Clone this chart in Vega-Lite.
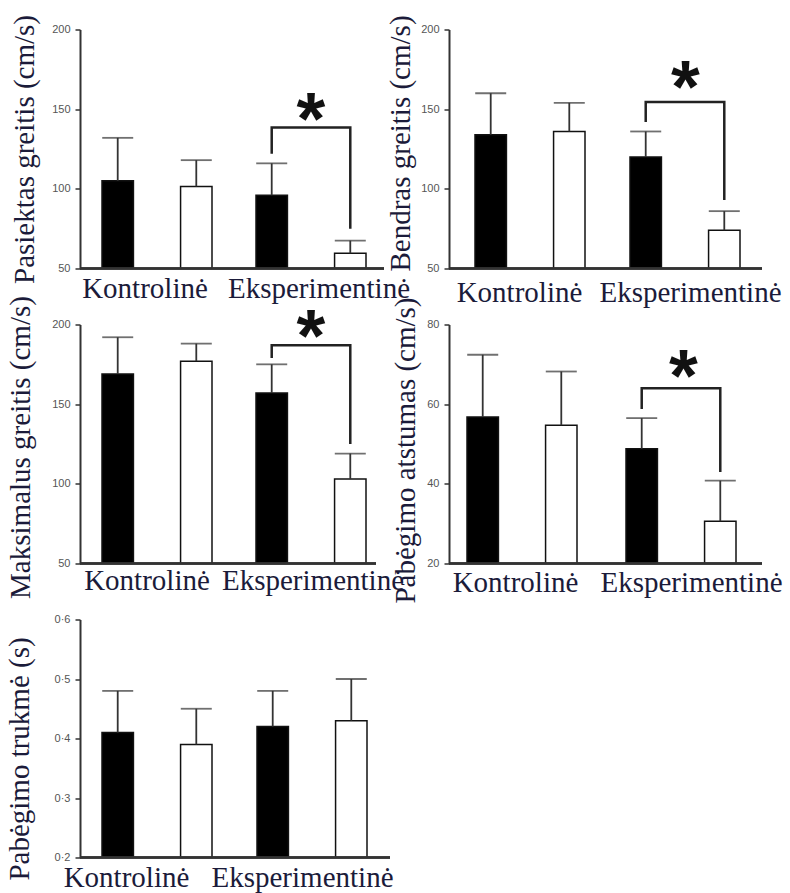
{
  "$schema": "https://vega.github.io/schema/vega-lite/v6.json",
  "background": "white",
  "padding": {"left": 5, "top": 13.5, "right": 0, "bottom": 0},
  "config": {
    "view": {"stroke": null},
    "axis": {
      "grid": false,
      "domainColor": "#333333",
      "domainWidth": 2,
      "tickColor": "#333333",
      "tickWidth": 1.5,
      "titleFont": "Liberation Serif",
      "titleFontSize": 29,
      "titleFontWeight": "normal",
      "titleColor": "#1b1b3a",
      "titleLimit": 1000
    },
    "axisX": {
      "ticks": false,
      "domain": false,
      "labelFont": "Liberation Serif",
      "labelFontSize": 29,
      "labelColor": "#1b1b3a",
      "labelAngle": 0,
      "labelLimit": 400,
      "labelOverlap": false,
      "labelBound": false,
      "labelFlush": false
    },
    "axisY": {"tickSize": 5, "labelPadding": 5, "labelFont": "Liberation Sans", "labelFontSize": 11, "labelColor": "#555555"},
    "line": {"strokeJoin": "miter", "strokeCap": "butt"}
  },
  "datasets": {
    "stulpeliai": [
      {"skydelis": "a", "grupe": "Kontrolinė", "serija": "I", "vid": 105, "sn": 132},
      {"skydelis": "a", "grupe": "Kontrolinė", "serija": "II", "vid": 101.5, "sn": 118},
      {"skydelis": "a", "grupe": "Eksperimentinė", "serija": "I", "vid": 96, "sn": 116},
      {"skydelis": "a", "grupe": "Eksperimentinė", "serija": "II", "vid": 59.5, "sn": 67.5},
      {"skydelis": "b", "grupe": "Kontrolinė", "serija": "I", "vid": 134, "sn": 160},
      {"skydelis": "b", "grupe": "Kontrolinė", "serija": "II", "vid": 136, "sn": 154},
      {"skydelis": "b", "grupe": "Eksperimentinė", "serija": "I", "vid": 120, "sn": 136},
      {"skydelis": "b", "grupe": "Eksperimentinė", "serija": "II", "vid": 74, "sn": 86},
      {"skydelis": "c", "grupe": "Kontrolinė", "serija": "I", "vid": 169, "sn": 192},
      {"skydelis": "c", "grupe": "Kontrolinė", "serija": "II", "vid": 177, "sn": 188},
      {"skydelis": "c", "grupe": "Eksperimentinė", "serija": "I", "vid": 157, "sn": 175},
      {"skydelis": "c", "grupe": "Eksperimentinė", "serija": "II", "vid": 103, "sn": 119},
      {"skydelis": "d", "grupe": "Kontrolinė", "serija": "I", "vid": 56.8, "sn": 72.4},
      {"skydelis": "d", "grupe": "Kontrolinė", "serija": "II", "vid": 54.7, "sn": 68.2},
      {"skydelis": "d", "grupe": "Eksperimentinė", "serija": "I", "vid": 48.8, "sn": 56.5},
      {"skydelis": "d", "grupe": "Eksperimentinė", "serija": "II", "vid": 30.6, "sn": 40.8},
      {"skydelis": "e", "grupe": "Kontrolinė", "serija": "I", "vid": 0.41, "sn": 0.48},
      {"skydelis": "e", "grupe": "Kontrolinė", "serija": "II", "vid": 0.39, "sn": 0.45},
      {"skydelis": "e", "grupe": "Eksperimentinė", "serija": "I", "vid": 0.42, "sn": 0.48},
      {"skydelis": "e", "grupe": "Eksperimentinė", "serija": "II", "vid": 0.43, "sn": 0.5}
    ],
    "skliaustai": [
      {"skydelis": "a", "grupe": "Eksperimentinė", "serija": "I", "eile": 1, "vid": 122},
      {"skydelis": "a", "grupe": "Eksperimentinė", "serija": "I", "eile": 2, "vid": 138.5},
      {"skydelis": "a", "grupe": "Eksperimentinė", "serija": "II", "eile": 3, "vid": 138.5},
      {"skydelis": "a", "grupe": "Eksperimentinė", "serija": "II", "eile": 4, "vid": 75},
      {"skydelis": "b", "grupe": "Eksperimentinė", "serija": "I", "eile": 1, "vid": 142},
      {"skydelis": "b", "grupe": "Eksperimentinė", "serija": "I", "eile": 2, "vid": 154.5},
      {"skydelis": "b", "grupe": "Eksperimentinė", "serija": "II", "eile": 3, "vid": 154.5},
      {"skydelis": "b", "grupe": "Eksperimentinė", "serija": "II", "eile": 4, "vid": 93},
      {"skydelis": "c", "grupe": "Eksperimentinė", "serija": "I", "eile": 1, "vid": 179},
      {"skydelis": "c", "grupe": "Eksperimentinė", "serija": "I", "eile": 2, "vid": 187},
      {"skydelis": "c", "grupe": "Eksperimentinė", "serija": "II", "eile": 3, "vid": 187},
      {"skydelis": "c", "grupe": "Eksperimentinė", "serija": "II", "eile": 4, "vid": 125},
      {"skydelis": "d", "grupe": "Eksperimentinė", "serija": "I", "eile": 1, "vid": 58.8},
      {"skydelis": "d", "grupe": "Eksperimentinė", "serija": "I", "eile": 2, "vid": 64},
      {"skydelis": "d", "grupe": "Eksperimentinė", "serija": "II", "eile": 3, "vid": 64},
      {"skydelis": "d", "grupe": "Eksperimentinė", "serija": "II", "eile": 4, "vid": 43}
    ],
    "zvaigzdes": [
      {"skydelis": "a", "grupe": "Eksperimentinė", "vid": 149, "zenklas": "*"},
      {"skydelis": "b", "grupe": "Eksperimentinė", "vid": 169, "zenklas": "*"},
      {"skydelis": "c", "grupe": "Eksperimentinė", "vid": 198, "zenklas": "*"},
      {"skydelis": "d", "grupe": "Eksperimentinė", "vid": 69.2, "zenklas": "*"}
    ]
  },
  "columns": 2,
  "bounds": "flush",
  "spacing": {"row": 56, "column": 59},
  "concat": [
    {
      "width": 304,
      "height": 239,
      "data": {"name": "stulpeliai"},
      "transform": [{"filter": "datum.skydelis === 'a'"}],
      "encoding": {
        "x": {"field": "grupe", "type": "nominal", "sort": ["Kontrolinė", "Eksperimentinė"],
          "scale": {"range": [0, 308], "paddingInner": 0, "paddingOuter": 0},
          "axis": {"title": null, "labelPadding": 6, "labelFont": "Liberation Serif", "labelFontSize": 29,
            "labelOffset": {"condition": {"test": "datum.value === 'Kontrolinė'", "value": -12}, "value": 8}}},
        "y": {"field": "vid", "type": "quantitative",
          "scale": {"domain": [50, 200], "nice": false, "zero": false},
          "axis": {"values": [50, 100, 150, 200], "title": "Pasiektas greitis (cm/s)", "titleFont": "Liberation Serif", "titlePadding": 12}}
      },
      "layer": [
        {
          "mark": {"type": "bar", "stroke": "#111111", "strokeWidth": 1.5, "clip": true},
          "encoding": {
            "xOffset": {"field": "serija", "type": "nominal", "sort": ["I", "II"], "scale": {"paddingInner": 0.6, "paddingOuter": 0.28}},
            "fill": {"field": "serija", "type": "nominal", "scale": {"domain": ["I", "II"], "range": ["#000000", "#ffffff"]}, "legend": null}
          }
        },
        {
          "mark": {"type": "rule", "color": "#333333", "strokeWidth": 1.8},
          "encoding": {"xOffset": {"field": "serija", "type": "nominal", "sort": ["I", "II"]}, "y2": {"field": "sn"}}
        },
        {
          "mark": {"type": "tick", "color": "#333333", "thickness": 1.8, "size": 31},
          "encoding": {"xOffset": {"field": "serija", "type": "nominal", "sort": ["I", "II"]}, "y": {"field": "sn", "type": "quantitative", "title": "Pasiektas greitis (cm/s)"}}
        },
        {
          "mark": {"type": "rule", "color": "#333333", "strokeWidth": 2},
          "encoding": {"x": null, "y": {"datum": 50, "type": "quantitative"}}
        },
        {
          "data": {"name": "skliaustai"},
          "transform": [{"filter": "datum.skydelis === 'a'"}],
          "mark": {"type": "line", "color": "#222222", "strokeWidth": 2.5},
          "encoding": {"xOffset": {"field": "serija", "type": "nominal", "sort": ["I", "II"]}, "order": {"field": "eile", "type": "quantitative"}}
        },
        {
          "data": {"name": "zvaigzdes"},
          "transform": [{"filter": "datum.skydelis === 'a'"}],
          "mark": {"type": "text", "font": "Liberation Sans", "fontWeight": "bold", "fontSize": 74, "baseline": "middle", "dy": 11, "color": "#111111"},
          "encoding": {"text": {"field": "zenklas"}}
        }
      ]
    },
    {
      "width": 313,
      "height": 239,
      "data": {"name": "stulpeliai"},
      "transform": [{"filter": "datum.skydelis === 'b'"}],
      "encoding": {
        "x": {"field": "grupe", "type": "nominal", "sort": ["Kontrolinė", "Eksperimentinė"],
          "scale": {"range": [4, 314], "paddingInner": 0, "paddingOuter": 0},
          "axis": {"title": null, "labelPadding": 10, "labelFont": "Liberation Serif", "labelFontSize": 29,
            "labelOffset": {"condition": {"test": "datum.value === 'Kontrolinė'", "value": -11}, "value": 5}}},
        "y": {"field": "vid", "type": "quantitative",
          "scale": {"domain": [50, 200], "nice": false, "zero": false},
          "axis": {"values": [50, 100, 150, 200], "title": "Bendras greitis (cm/s)", "titleFont": "Liberation Serif", "titlePadding": 5, "titleY": 113.5}}
      },
      "layer": [
        {
          "mark": {"type": "bar", "stroke": "#111111", "strokeWidth": 1.5, "clip": true},
          "encoding": {
            "xOffset": {"field": "serija", "type": "nominal", "sort": ["I", "II"], "scale": {"paddingInner": 0.6, "paddingOuter": 0.28}},
            "fill": {"field": "serija", "type": "nominal", "scale": {"domain": ["I", "II"], "range": ["#000000", "#ffffff"]}, "legend": null}
          }
        },
        {
          "mark": {"type": "rule", "color": "#333333", "strokeWidth": 1.8},
          "encoding": {"xOffset": {"field": "serija", "type": "nominal", "sort": ["I", "II"]}, "y2": {"field": "sn"}}
        },
        {
          "mark": {"type": "tick", "color": "#333333", "thickness": 1.8, "size": 31},
          "encoding": {"xOffset": {"field": "serija", "type": "nominal", "sort": ["I", "II"]}, "y": {"field": "sn", "type": "quantitative", "title": "Bendras greitis (cm/s)"}}
        },
        {
          "mark": {"type": "rule", "color": "#333333", "strokeWidth": 2},
          "encoding": {"x": null, "y": {"datum": 50, "type": "quantitative"}}
        },
        {
          "data": {"name": "skliaustai"},
          "transform": [{"filter": "datum.skydelis === 'b'"}],
          "mark": {"type": "line", "color": "#222222", "strokeWidth": 2.5},
          "encoding": {"xOffset": {"field": "serija", "type": "nominal", "sort": ["I", "II"]}, "order": {"field": "eile", "type": "quantitative"}}
        },
        {
          "data": {"name": "zvaigzdes"},
          "transform": [{"filter": "datum.skydelis === 'b'"}],
          "mark": {"type": "text", "font": "Liberation Sans", "fontWeight": "bold", "fontSize": 74, "baseline": "middle", "dy": 11, "color": "#111111"},
          "encoding": {"text": {"field": "zenklas"}}
        }
      ]
    },
    {
      "width": 296,
      "height": 239,
      "data": {"name": "stulpeliai"},
      "transform": [{"filter": "datum.skydelis === 'c'"}],
      "encoding": {
        "x": {"field": "grupe", "type": "nominal", "sort": ["Kontrolinė", "Eksperimentinė"],
          "scale": {"range": [0, 308], "paddingInner": 0, "paddingOuter": 0},
          "axis": {"title": null, "labelPadding": 3, "labelFont": "Liberation Serif", "labelFontSize": 29,
            "labelOffset": {"condition": {"test": "datum.value === 'Kontrolinė'", "value": -10}, "value": 2}}},
        "y": {"field": "vid", "type": "quantitative",
          "scale": {"domain": [50, 200], "nice": false, "zero": false},
          "axis": {"values": [50, 100, 150, 200], "title": "Maksimalus greitis (cm/s)", "titleFont": "Liberation Serif", "titlePadding": 16, "titleY": 122.5}}
      },
      "layer": [
        {
          "mark": {"type": "bar", "stroke": "#111111", "strokeWidth": 1.5, "clip": true},
          "encoding": {
            "xOffset": {"field": "serija", "type": "nominal", "sort": ["I", "II"], "scale": {"paddingInner": 0.6, "paddingOuter": 0.28}},
            "fill": {"field": "serija", "type": "nominal", "scale": {"domain": ["I", "II"], "range": ["#000000", "#ffffff"]}, "legend": null}
          }
        },
        {
          "mark": {"type": "rule", "color": "#333333", "strokeWidth": 1.8},
          "encoding": {"xOffset": {"field": "serija", "type": "nominal", "sort": ["I", "II"]}, "y2": {"field": "sn"}}
        },
        {
          "mark": {"type": "tick", "color": "#333333", "thickness": 1.8, "size": 31},
          "encoding": {"xOffset": {"field": "serija", "type": "nominal", "sort": ["I", "II"]}, "y": {"field": "sn", "type": "quantitative", "title": "Maksimalus greitis (cm/s)"}}
        },
        {
          "mark": {"type": "rule", "color": "#333333", "strokeWidth": 2},
          "encoding": {"x": null, "y": {"datum": 50, "type": "quantitative"}}
        },
        {
          "data": {"name": "skliaustai"},
          "transform": [{"filter": "datum.skydelis === 'c'"}],
          "mark": {"type": "line", "color": "#222222", "strokeWidth": 2.5},
          "encoding": {"xOffset": {"field": "serija", "type": "nominal", "sort": ["I", "II"]}, "order": {"field": "eile", "type": "quantitative"}}
        },
        {
          "data": {"name": "zvaigzdes"},
          "transform": [{"filter": "datum.skydelis === 'c'"}],
          "mark": {"type": "text", "font": "Liberation Sans", "fontWeight": "bold", "fontSize": 74, "baseline": "middle", "dy": 11, "color": "#111111"},
          "encoding": {"text": {"field": "zenklas"}}
        }
      ]
    },
    {
      "width": 313,
      "height": 239,
      "data": {"name": "stulpeliai"},
      "transform": [{"filter": "datum.skydelis === 'd'"}],
      "encoding": {
        "x": {"field": "grupe", "type": "nominal", "sort": ["Kontrolinė", "Eksperimentinė"],
          "scale": {"range": [-4, 314], "paddingInner": 0, "paddingOuter": 0},
          "axis": {"title": null, "labelPadding": 5, "labelFont": "Liberation Serif", "labelFontSize": 29,
            "labelOffset": {"condition": {"test": "datum.value === 'Kontrolinė'", "value": -9}, "value": 8}}},
        "y": {"field": "vid", "type": "quantitative",
          "scale": {"domain": [20, 80], "nice": false, "zero": false},
          "axis": {"values": [20, 40, 60, 80], "title": "Pabėgimo atstumas (cm/s)", "titleFont": "Liberation Serif", "titlePadding": 6, "titleY": 125.5}}
      },
      "layer": [
        {
          "mark": {"type": "bar", "stroke": "#111111", "strokeWidth": 1.5, "clip": true},
          "encoding": {
            "xOffset": {"field": "serija", "type": "nominal", "sort": ["I", "II"], "scale": {"paddingInner": 0.6, "paddingOuter": 0.28}},
            "fill": {"field": "serija", "type": "nominal", "scale": {"domain": ["I", "II"], "range": ["#000000", "#ffffff"]}, "legend": null}
          }
        },
        {
          "mark": {"type": "rule", "color": "#333333", "strokeWidth": 1.8},
          "encoding": {"xOffset": {"field": "serija", "type": "nominal", "sort": ["I", "II"]}, "y2": {"field": "sn"}}
        },
        {
          "mark": {"type": "tick", "color": "#333333", "thickness": 1.8, "size": 31},
          "encoding": {"xOffset": {"field": "serija", "type": "nominal", "sort": ["I", "II"]}, "y": {"field": "sn", "type": "quantitative", "title": "Pabėgimo atstumas (cm/s)"}}
        },
        {
          "mark": {"type": "rule", "color": "#333333", "strokeWidth": 2},
          "encoding": {"x": null, "y": {"datum": 20, "type": "quantitative"}}
        },
        {
          "data": {"name": "skliaustai"},
          "transform": [{"filter": "datum.skydelis === 'd'"}],
          "mark": {"type": "line", "color": "#222222", "strokeWidth": 2.5},
          "encoding": {"xOffset": {"field": "serija", "type": "nominal", "sort": ["I", "II"]}, "order": {"field": "eile", "type": "quantitative"}}
        },
        {
          "data": {"name": "zvaigzdes"},
          "transform": [{"filter": "datum.skydelis === 'd'"}],
          "mark": {"type": "text", "font": "Liberation Sans", "fontWeight": "bold", "fontSize": 74, "baseline": "middle", "dy": 11, "color": "#111111"},
          "encoding": {"text": {"field": "zenklas"}}
        }
      ]
    },
    {
      "width": 310,
      "height": 238,
      "data": {"name": "stulpeliai"},
      "transform": [{"filter": "datum.skydelis === 'e'"}],
      "encoding": {
        "x": {"field": "grupe", "type": "nominal", "sort": ["Kontrolinė", "Eksperimentinė"],
          "scale": {"range": [0, 310], "paddingInner": 0, "paddingOuter": 0},
          "axis": {"title": null, "labelPadding": 6, "labelFont": "Liberation Serif", "labelFontSize": 29,
            "labelOffset": {"condition": {"test": "datum.value === 'Kontrolinė'", "value": -31}, "value": -10}}},
        "y": {"field": "vid", "type": "quantitative",
          "scale": {"domain": [0.2, 0.6], "nice": false, "zero": false},
          "axis": {"values": [0.2, 0.3, 0.4, 0.5, 0.6], "labelExpr": "replace(format(datum.value, '.1f'), '.', '·')",
            "title": "Pabėgimo trukmė (s)", "titleFont": "Liberation Serif", "titlePadding": 20, "titleY": 139}}
      },
      "layer": [
        {
          "mark": {"type": "bar", "stroke": "#111111", "strokeWidth": 1.5, "clip": true},
          "encoding": {
            "xOffset": {"field": "serija", "type": "nominal", "sort": ["I", "II"], "scale": {"paddingInner": 0.6, "paddingOuter": 0.28}},
            "fill": {"field": "serija", "type": "nominal", "scale": {"domain": ["I", "II"], "range": ["#000000", "#ffffff"]}, "legend": null}
          }
        },
        {
          "mark": {"type": "rule", "color": "#333333", "strokeWidth": 1.8},
          "encoding": {"xOffset": {"field": "serija", "type": "nominal", "sort": ["I", "II"]}, "y2": {"field": "sn"}}
        },
        {
          "mark": {"type": "tick", "color": "#333333", "thickness": 1.8, "size": 31},
          "encoding": {"xOffset": {"field": "serija", "type": "nominal", "sort": ["I", "II"]}, "y": {"field": "sn", "type": "quantitative", "title": "Pabėgimo trukmė (s)"}}
        },
        {
          "mark": {"type": "rule", "color": "#333333", "strokeWidth": 2},
          "encoding": {"x": null, "y": {"datum": 0.2, "type": "quantitative"}}
        }
      ]
    }
  ]
}
